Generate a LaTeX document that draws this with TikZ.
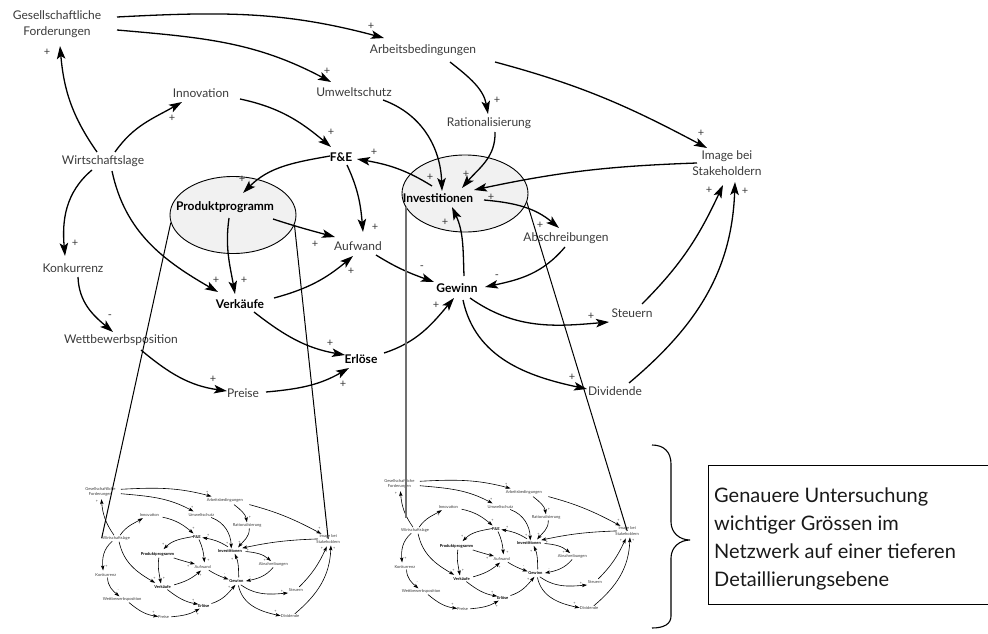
\documentclass[tikz,border=0pt]{standalone}
\usepackage{fontspec}
\setmainfont{Lato}
\usetikzlibrary{arrows.meta,calc,shapes.geometric}

\definecolor{labgray}{HTML}{3A3A3A}
\definecolor{ellfill}{HTML}{F1F1F1}
\definecolor{guidegray}{HTML}{707070}

\tikzset{
  lab/.style={font=\fontsize{12}{16}\selectfont, text=labgray, inner sep=1pt, align=center},
  keyvar/.style={lab, font=\fontsize{12}{16}\selectfont\bfseries, text=black},
  sgn/.style={font=\fontsize{11}{11}\selectfont, text=labgray, inner sep=0pt},
  causal/.style={line width=1.3pt, -{Stealth[length=13pt,width=8.5pt,inset=3pt]}},
  focus/.style={ellipse, draw=black, line width=0.9pt, fill=ellfill,
    minimum width=126pt, minimum height=77pt, inner sep=0pt},
  guide/.style={line width=1pt},
}

% the whole causal network, drawn once at full size and twice reduced
\newcommand\causalnet{%
  \node[lab]    (ges)  at (57,-24)  {Gesellschaftliche\\Forderungen};
  \node[lab]    (arb)  at (423,-50) {Arbeitsbedingungen};
  \node[lab]    (umw)  at (354,-92) {Umweltschutz};
  \node[lab]    (inn)  at (201,-93) {Innovation};
  \node[lab]    (rat)  at (489,-123) {Rationalisierung};
  \node[keyvar] (fe)   at (341,-157) {F\&E};
  \node[lab]    (img)  at (727,-163) {Image bei\\Stakeholdern};
  \node[lab]    (wir)  at (103,-161) {Wirtschaftslage};
  \node[keyvar] (inv)  at (438,-198) {Investitionen};
  \node[keyvar] (prod) at (225,-207) {Produktprogramm};
  \node[lab]    (abs)  at (566,-238) {Abschreibungen};
  \node[lab]    (auf)  at (358,-246) {Aufwand};
  \node[lab]    (kon)  at (73,-268)  {Konkurrenz};
  \node[keyvar] (gew)  at (457,-288) {Gewinn};
  \node[keyvar] (verk) at (240,-304) {Verkäufe};
  \node[lab]    (ste)  at (632,-313) {Steuern};
  \node[lab]    (wett) at (121,-340) {Wettbewerbsposition};
  \node[keyvar] (erl)  at (361,-359) {Erlöse};
  \node[lab]    (div)  at (615,-391) {Dividende};
  \node[lab]    (pre)  at (243,-393) {Preise};
  % causal links
  \draw[causal] ($(ges)+(60,7)$)    to[out=3,in=165]   ($(arb)+(-39,12)$);
  \draw[causal] ($(ges)+(60,-6)$)   to[out=-5,in=152]  ($(umw)+(-23,10)$);
  \draw[causal] ($(wir)+(-6,9)$)    to[out=125,in=-85] ($(ges)+(3,-22)$);
  \draw[causal] ($(wir)+(12,9)$)    to[out=55,in=210]  ($(inn)+(-19,-9)$);
  \draw[causal] ($(inn)+(39,-6)$)   to[out=-12,in=140] ($(fe)+(-10,10)$);
  \draw[causal] ($(umw)+(29,-8)$)   to[out=-20,in=92]  ($(inv)+(4,7)$);
  \draw[causal] ($(arb)+(27,-12)$)  to[out=-38,in=100] ($(rat)+(-1,9)$);
  \draw[causal] ($(arb)+(72,-12)$)  to[out=-15,in=152] ($(img)+(-20,15)$);
  \draw[causal] ($(rat)+(6,-9)$)    to[out=-88,in=50]  ($(inv)+(24,10)$);
  \draw[causal] ($(img)+(-30,0)$)   to[out=182,in=12]  ($(inv)+(36,8)$);
  \draw[causal] ($(inv)+(-6,12)$)   to[out=148,in=-10] ($(fe)+(16,-2)$);
  \draw[causal] ($(fe)+(-11,1)$)    to[out=190,in=45]  ($(prod)+(18,14)$);
  \draw[causal] ($(fe)+(6,-8)$)     to[out=-65,in=95]  ($(auf)+(5,14)$);
  \draw[causal] ($(prod)+(48,-12)$) to[out=-18,in=165] ($(auf)+(-23,9)$);
  \draw[causal] ($(prod)+(4,-11)$)  to[out=-98,in=100] ($(verk)+(-5,10)$);
  \draw[causal] ($(wir)+(9,-10)$)   to[out=-78,in=150] ($(verk)+(-22,12)$);
  \draw[causal] ($(wir)+(-11,-9)$)  to[out=220,in=95]  ($(kon)+(-8,12)$);
  \draw[causal] ($(kon)+(5,-9)$)    to[out=-88,in=140] ($(wett)+(-8,8)$);
  \draw[causal] ($(wett)+(20,-10)$) to[out=-40,in=172] ($(pre)+(-16,2)$);
  \draw[causal] ($(verk)+(34,6)$)   to[out=15,in=220]  ($(auf)+(-5,-10)$);
  \draw[causal] ($(verk)+(14,-8)$)  to[out=-38,in=170] ($(erl)+(-16,4)$);
  \draw[causal] ($(pre)+(23,1)$)    to[out=5,in=210]   ($(erl)+(-12,-9)$);
  \draw[causal] ($(auf)+(18,-9)$)   to[out=-32,in=160] ($(gew)+(-23,6)$);
  \draw[causal] ($(erl)+(23,6)$)    to[out=18,in=230]  ($(gew)+(-3,-10)$);
  \draw[causal] ($(gew)+(7,12)$)    to[out=92,in=-65]  ($(inv)+(14,-9)$);
  \draw[causal] ($(inv)+(46,-2)$)   to[out=-5,in=140]  ($(abs)+(-7,10)$);
  \draw[causal] ($(abs)+(-1,-9)$)   to[out=230,in=12]  ($(gew)+(28,1)$);
  \draw[causal] ($(gew)+(13,-10)$)  to[out=-35,in=185] ($(ste)+(-23,-9)$);
  \draw[causal] ($(gew)+(6,-12)$)   to[out=-78,in=168] ($(div)+(-28,2)$);
  \draw[causal] ($(ste)+(10,9)$)    to[out=45,in=245]  ($(img)+(-4,-22)$);
  \draw[causal] ($(div)+(14,8)$)    to[out=40,in=268]  ($(img)+(8,-19)$);
  % polarity signs
  \foreach \n/\x/\y/\s in {1/371/26/+, 2/327/71/+, 3/47/52/+, 4/172/118/+,
      5/331/132/+, 6/430/177/+, 7/497/100/+, 8/701/133/+, 9/466/174/+,
      10/491/197/+, 11/374/152/+, 12/242/179/+, 13/375/227/+, 14/315/244/+,
      15/244/280/+, 16/216/280/+, 17/75/243/+, 18/110/317/-, 19/213/379/+,
      20/351/271/+, 21/330/343/+, 22/343/384/+, 23/422/268/-, 24/436/305/+,
      25/445/222/+, 26/540/225/+, 27/497/277/-, 28/591/316/+, 29/572/377/+,
      30/709/190/+, 31/745/191/+}
    \node[sgn] (s\n) at (\x,-\y) {\s};
}

\begin{document}
\begin{tikzpicture}[x=1pt,y=1pt]
  \useasboundingbox (0,0) rectangle (988,-634);

  % highlighted key variables
  \node[focus] (ppE)  at (233,-215) {};
  \node[focus] (invE) at (465,-193.5) {};

  % full-size network
  \causalnet

  % reduced copies
  \begin{scope}[shift={(81,-483.5)}, scale=0.34, transform shape, name prefix=c1-,
      causal/.style={line width=0.6pt, -{Stealth[length=5pt,width=3.4pt,inset=1pt]}}]
    \causalnet
  \end{scope}
  \begin{scope}[shift={(380,-475.5)}, scale=0.34, transform shape, name prefix=c2-,
      causal/.style={line width=0.6pt, -{Stealth[length=5pt,width=3.4pt,inset=1pt]}}]
    \causalnet
  \end{scope}

  % guide lines from the key variables to their detail views
  \draw[guide] (ppE.187) -- (c1-wir.west);
  \draw[guide] (ppE.351) -- (c1-img.center);
  \coordinate (foot) at (406,-518);
  \draw[guide, draw=guidegray, line width=1.8pt] (invE.193) -- (invE.193 |- foot);
  \draw[guide] (invE.352) -- (c2-img.center);

  % curly brace
  \draw[line width=1.1pt]
    (652,-445) .. controls (664,-445) and (671,-452) .. (671,-464)
    -- (671,-522) .. controls (671,-533) and (680,-540) .. (690,-540)
    .. controls (680,-540) and (671,-547) .. (671,-558)
    -- (671,-616) .. controls (671,-624) and (664,-628) .. (652,-628);

  % explanatory note, framed on three sides
  \coordinate (boxnw) at (708,-465);
  \coordinate (boxse) at (988,-604);
  \node[anchor=west, inner sep=0pt, align=left,
        font=\fontsize{20}{28}\selectfont, text=black!90] (note) at (714,-539)
    {Genauere Untersuchung\\wichtiger Grössen im\\Netzwerk auf einer tieferen\\Detaillierungsebene};
  \draw[line width=0.9pt] (boxse |- boxnw) -- (boxnw) -- (boxnw |- boxse) -- (boxse);
\end{tikzpicture}
\end{document}
